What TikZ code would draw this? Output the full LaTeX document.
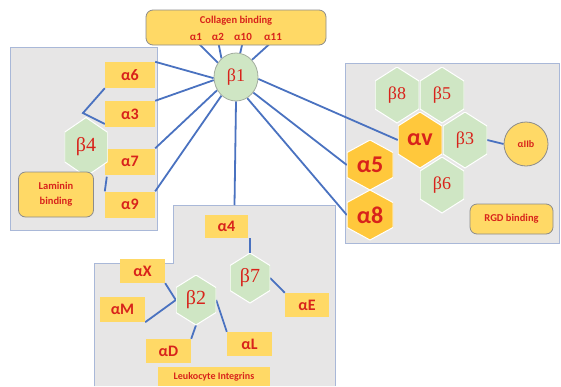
\documentclass[tikz,border=0pt]{standalone}
\usepackage{fontspec}
\setmainfont{Carlito}
\newfontfamily\betafont{Liberation Serif}
\usetikzlibrary{calc,shapes.geometric}
\definecolor{ybox}{HTML}{FFD966}
\definecolor{yhex}{HTML}{FFC83C}
\definecolor{ghex}{HTML}{CFE6C4}
\definecolor{graybg}{HTML}{E7E6E6}
\definecolor{grayedge}{HTML}{A9B8D8}
\definecolor{lnc}{HTML}{4A72C0}
\definecolor{myred}{HTML}{D8231B}
\definecolor{rbord}{HTML}{8C8C8C}
\pgfdeclarelayer{bg}
\pgfdeclarelayer{lines}
\pgfsetlayers{bg,lines,main}
\tikzset{
  lbl/.style={text=myred, font=\bfseries\fontsize{16}{16}\selectfont},
  small/.style={text=myred, font=\bfseries\fontsize{#1}{#1}\selectfont, inner sep=0},
  abox/.style={fill=ybox, minimum width=50pt, minimum height=26pt, inner sep=0, lbl},
  bl/.style={text=myred, font=\betafont\fontsize{#1}{#1}\selectfont},
  hexa/.style args={#1/#2/#3}{inner sep=0, minimum width=#1, minimum height=#2,
    path picture={\fill[#3,draw=white,line width=1pt]
      (path picture bounding box.north)
      -- ($(path picture bounding box.north east)!.25!(path picture bounding box.south east)$)
      -- ($(path picture bounding box.north east)!.75!(path picture bounding box.south east)$)
      -- (path picture bounding box.south)
      -- ($(path picture bounding box.south west)!.25!(path picture bounding box.north west)$)
      -- ($(path picture bounding box.south west)!.75!(path picture bounding box.north west)$)
      -- cycle;}},
  rbox/.style={fill=ybox, draw=rbord, line width=0.8pt, rounded corners=7pt, inner sep=0},
  conn/.style={draw=lnc, line width=1.8pt},
  region/.style={fill=graybg, draw=grayedge, line width=0.9pt}
}
\begin{document}
\begin{tikzpicture}[x=1pt,y=-1pt]
\useasboundingbox (0,0) rectangle (561,386);
% regions
\begin{pgfonlayer}{bg}
\filldraw[region] (10,47) rectangle (157,230);
\filldraw[region] (345,63) rectangle (559,243);
\fill[graybg] (94,386) -- (94,263) -- (173,263) -- (173,205) -- (335,205) -- (335,386) -- cycle;
\draw[grayedge, line width=0.9pt] (94,386) -- (94,263) -- (173,263) -- (173,205) -- (335,205) -- (335,386);
\end{pgfonlayer}
% collagen
\node[rbox, minimum width=180pt, minimum height=35pt] (coll) at (236,27.5) {};
\node[small=10.5] (colltxt) at (236,21) {Collagen binding};
\node[small=11] (c1) at (196,37) {α1};
\node[small=11] (c2) at (218,37) {α2};
\node[small=11] (c10) at (243,37) {α10};
\node[small=11] (c11) at (273,37) {α11};
% beta1
\node[ellipse, fill=ghex, draw=ghex!60!black!70, line width=0.8pt, minimum width=44pt, minimum height=48pt, inner sep=0, bl=18] (b1) at (236,77) {β1};
% left group
\node[abox] (a6) at (130,75) {α6};
\node[abox] (a3) at (130,114) {α3};
\node[abox] (a7) at (130,161.5) {α7};
\node[abox] (a9) at (130,204.5) {α9};
\node[hexa=43pt/59pt/ghex, bl=20] (b4) at (86,147) {β4};
\node[rbox, minimum width=75pt, minimum height=45pt, align=center, small=10, font=\bfseries\fontsize{10.5}{15}\selectfont] (lam) at (56,194.5) {Laminin\\binding};
\coordinate (j4) at (83,113);
% right group
\node[hexa=44pt/56pt/ghex, bl=18] (b8) at (397,95) {β8};
\node[hexa=44pt/56pt/ghex, bl=18] (b5) at (442,95) {β5};
\node[hexa=44pt/56pt/yhex, text=myred, font=\bfseries\fontsize{24}{24}\selectfont] (av) at (420,140) {αv};
\node[hexa=44pt/56pt/ghex, bl=18] (b3) at (465,140) {β3};
\node[hexa=44pt/56pt/ghex, bl=18] (b6) at (442,185) {β6};
\node[hexa=46pt/50pt/yhex, text=myred, font=\bfseries\fontsize{24}{24}\selectfont] (a5) at (370,165) {α5};
\node[hexa=46pt/50pt/yhex, text=myred, font=\bfseries\fontsize{24}{24}\selectfont] (a8) at (370,215) {α8};
\node[circle, fill=ybox, draw=rbord, line width=0.8pt, minimum size=44pt, inner sep=0, small=10] (aIIb) at (526,144) {αIIb};
\node[rbox, minimum width=83pt, minimum height=30pt, small=10.5] (rgd) at (511.5,219) {RGD binding};
% leukocyte group
\coordinate (leuktop) at (234.5,205);
\node[abox, minimum width=43pt, minimum height=23pt] (a4) at (226.5,226.5) {α4};
\node[hexa=40pt/50pt/ghex, bl=20] (b7) at (250,278) {β7};
\node[abox, minimum width=44pt, minimum height=24pt] (aE) at (307,305) {αE};
\node[abox, minimum width=45pt, minimum height=24pt] (aX) at (142.5,271) {αX};
\node[abox, minimum width=45pt, minimum height=25pt] (aM) at (122.5,309.5) {αM};
\node[hexa=40pt/50pt/ghex, bl=20] (b2) at (196,300) {β2};
\node[abox, minimum width=45pt, minimum height=24pt] (aD) at (168.5,351) {αD};
\node[abox, minimum width=45pt, minimum height=24pt] (aL) at (249.5,344) {αL};
\node[fill=ybox, minimum width=112pt, minimum height=19pt, inner sep=0, small=10] (leuk) at (214,376.5) {Leukocyte Integrins};
% connectors
\begin{pgfonlayer}{lines}
\draw[conn] (c1.south) -- (b1.142);
\draw[conn] (c2.south) -- (b1.128);
\draw[conn] (c10.south) -- (b1.80);
\draw[conn] (c11.south) -- (b1.47);
\draw[conn] (b1.183) -- (a6.north east);
\draw[conn] (b1.188) -- (a3.north east);
\draw[conn] (b1.215) -- (a7.north east);
\draw[conn] (b1.232) -- (a9.north east);
\draw[conn] (b1.south) -- (leuktop);
\draw[conn] (b1.355) -- (av.west);
\draw[conn] (b1.-42) -- (a5.west);
\draw[conn] (b1.-62) -- (a8.west);
\draw[conn] (a6.south west) -- (j4) -- (a3.west |- 0,124);
\draw[conn] (b4.-55) -- (a9.north west);
\draw[conn] (b3.east) -- (aIIb.west);
\draw[conn] (b7.north) -- (b7.north |- a4.south);
\draw[conn] (b7.east) -- (aE.north west);
\draw[conn] (aX.south east) -- (b2.west);
\draw[conn] (aM.south east) -- (b2.west);
\draw[conn] (b2.south) -- (aD.north east);
\draw[conn] (b2.east) -- (aL.north west);
\end{pgfonlayer}
\end{tikzpicture}
\end{document}
